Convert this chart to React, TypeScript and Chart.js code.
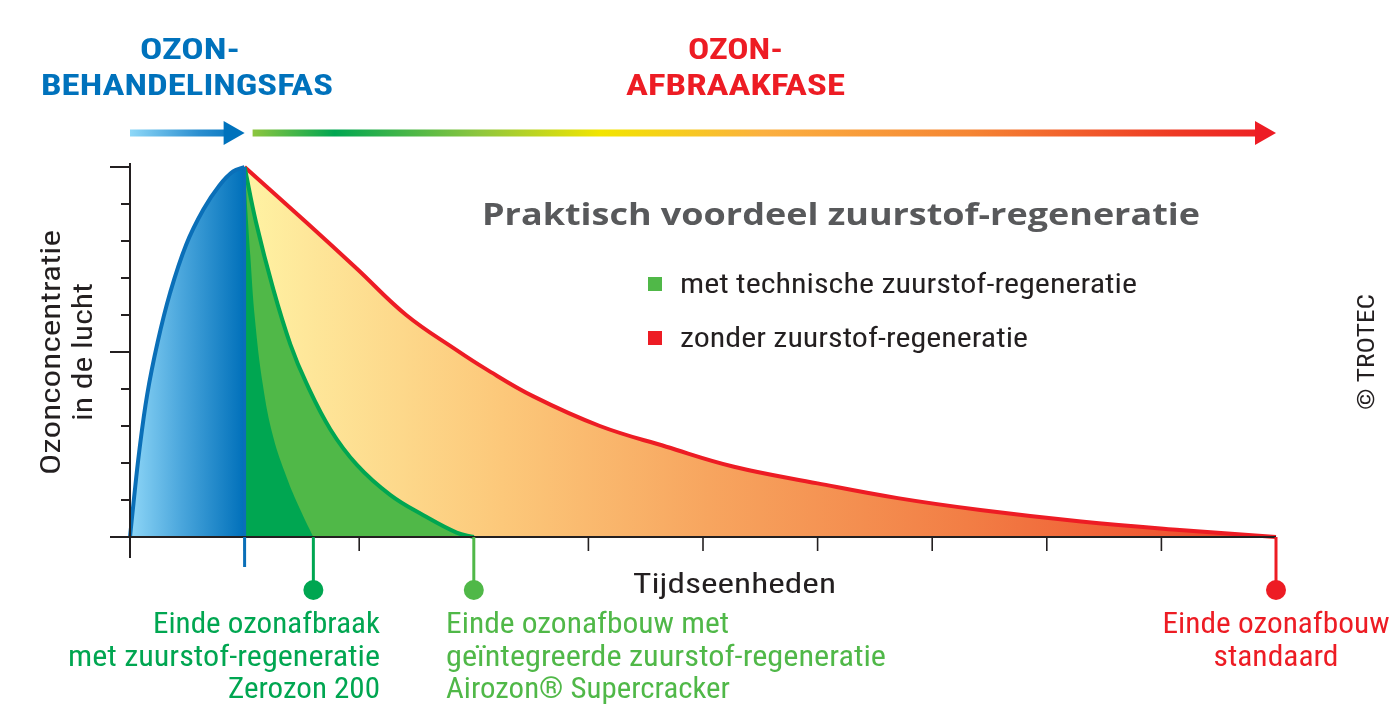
import React, { useEffect, useRef } from "react";
import { Chart, registerables } from "chart.js";

Chart.register(...registerables);

// ---- data (time units / relative ozone concentration) ----
const timeTicks = [0, 1, 2, 3, 4, 5, 6, 7, 8, 9, 10];
const concTicks = [0, 1, 2, 3, 4, 5, 6, 7, 8, 9, 10];
const majorConcTicks = [0, 5, 10];

const riseX = [0, 0.03, 0.08, 0.15, 0.24, 0.35, 0.49, 0.64, 0.78, 0.9, 1];
const riseY = [0, 0.9, 2.3, 3.85, 5.25, 6.6, 7.9, 8.85, 9.5, 9.88, 10];

const standardX = [1, 1.54, 1.98, 2.41, 2.85, 3.1, 3.52, 4.1, 4.68, 5.27, 6.0, 6.7, 7.42, 8.3, 9.16, 10];
const standardY = [10, 8.5, 7.25, 6.0, 5.05, 4.55, 3.8, 3.0, 2.44, 1.9, 1.45, 1.05, 0.73, 0.42, 0.19, 0];

const airozonX = [1, 1.1, 1.25, 1.4, 1.54, 1.75, 1.98, 2.27, 2.56, 2.85, 3];
const airozonY = [10, 8.5, 6.7, 5.2, 4.15, 2.9, 1.95, 1.14, 0.59, 0.12, 0];

const zerozonX = [1, 1.05, 1.09, 1.16, 1.25, 1.37, 1.48, 1.6];
const zerozonY = [10, 7.6, 5.9, 4.1, 2.7, 1.59, 0.78, 0];

const treatmentEnd = 1;
const zerozonEnd = 1.6;
const airozonEnd = 3;
const standardEnd = 10;

const phaseTreatment = ["OZON-", "BEHANDELINGSFAS"];
const phaseBreakdown = ["OZON-", "AFBRAAKFASE"];
const chartTitle = "Praktisch voordeel zuurstof-regeneratie";
const legendLabels = ["met technische zuurstof-regeneratie", "zonder zuurstof-regeneratie"];
const xTitle = "Tijdseenheden";
const yTitle = ["Ozonconcentratie", "in de lucht"];
const zerozonLabel = ["Einde ozonafbraak", "met zuurstof-regeneratie", "Zerozon 200"];
const airozonLabel = ["Einde ozonafbouw met", "geïntegreerde zuurstof-regeneratie", "Airozon® Supercracker"];
const standardLabel = ["Einde ozonafbouw", "standaard"];
const copyright = "© TROTEC";

const pts = (xs: number[], ys: number[]) => xs.map((x, i) => ({ x, y: ys[i] }));

const NARROW = '"Liberation Sans Narrow", "Roboto Condensed", Roboto, "DejaVu Sans Condensed", sans-serif';

const BLUE = "#0a6fb8";
const DKGREEN = "#00a651";
const LTGREEN = "#50b848";
const RED = "#ed1c24";
const INK = "#231f20";

function fitText(c: CanvasRenderingContext2D, text: string, x: number, y: number, w: number, align: CanvasTextAlign, rot = 0) {
  const m = c.measureText(text).width;
  const s = w / m;
  c.save();
  c.translate(x, y);
  if (rot) c.rotate(rot);
  c.scale(s, 1);
  c.textAlign = align;
  c.textBaseline = "alphabetic";
  c.fillText(text, 0, 0);
  c.restore();
}

function arrow(c: CanvasRenderingContext2D, x0: number, x1: number, y: number, fill: string | CanvasGradient, headColor: string) {
  const headLen = 21;
  c.save();
  c.fillStyle = fill;
  c.fillRect(x0, y - 3.5, x1 - headLen - x0 + 1, 7);
  c.fillStyle = headColor;
  c.beginPath();
  c.moveTo(x1 - headLen, y - 12);
  c.lineTo(x1, y);
  c.lineTo(x1 - headLen, y + 12);
  c.closePath();
  c.fill();
  c.restore();
}

const decorPlugin = {
  id: "decor",
  afterDatasetsDraw(chart: any) {
    const c: CanvasRenderingContext2D = chart.ctx;
    const xs = chart.scales.x;
    const ys = chart.scales.y;
    const x0 = xs.getPixelForValue(0);
    const y0 = ys.getPixelForValue(0);
    c.save();
    // blue vertical edge at end of treatment phase
    c.strokeStyle = BLUE;
    c.lineWidth = 3;
    c.beginPath();
    c.moveTo(xs.getPixelForValue(treatmentEnd), ys.getPixelForValue(10));
    c.lineTo(xs.getPixelForValue(treatmentEnd), y0);
    c.stroke();

    c.strokeStyle = INK;
    c.lineCap = "butt";
    // y axis
    c.lineWidth = 2;
    c.beginPath();
    c.moveTo(x0, ys.getPixelForValue(10) - 4);
    c.lineTo(x0, y0 + 21);
    c.stroke();
    // y ticks
    concTicks.forEach((v) => {
      const py = ys.getPixelForValue(v);
      const len = majorConcTicks.includes(v) ? 20 : 9;
      c.beginPath();
      c.moveTo(x0 - len, py);
      c.lineTo(x0, py);
      c.stroke();
    });
    // x axis
    c.beginPath();
    c.moveTo(x0 - 20, y0);
    c.lineTo(xs.getPixelForValue(10), y0);
    c.stroke();
    c.lineWidth = 1.6;
    timeTicks.forEach((t) => {
      if (t === 0) return;
      const px = xs.getPixelForValue(t);
      c.beginPath();
      c.moveTo(px, y0);
      c.lineTo(px, y0 + 14);
      c.stroke();
    });
    // end markers
    c.lineWidth = 3;
    c.strokeStyle = BLUE;
    c.beginPath();
    c.moveTo(xs.getPixelForValue(treatmentEnd), y0);
    c.lineTo(xs.getPixelForValue(treatmentEnd), y0 + 30);
    c.stroke();
    const marker = (t: number, col: string) => {
      const px = xs.getPixelForValue(t);
      c.strokeStyle = col;
      c.fillStyle = col;
      c.beginPath();
      c.moveTo(px, y0);
      c.lineTo(px, y0 + 50);
      c.stroke();
      c.beginPath();
      c.arc(px, y0 + 53, 10, 0, Math.PI * 2);
      c.fill();
    };
    marker(zerozonEnd, DKGREEN);
    marker(airozonEnd, LTGREEN);
    marker(standardEnd, RED);
    c.restore();
  },
  afterDraw(chart: any) {
    const c: CanvasRenderingContext2D = chart.ctx;
    const xs = chart.scales.x;
    c.save();
    // phase headings
    c.font = `bold 29px ${NARROW}`;
    c.fillStyle = "#0072bc";
    fitText(c, phaseTreatment[0], 140, 59, 100, "left");
    fitText(c, phaseTreatment[1], 41, 95, 292, "left");
    c.fillStyle = RED;
    fitText(c, phaseBreakdown[0], 688, 59, 95, "left");
    fitText(c, phaseBreakdown[1], 626, 95, 219, "left");

    // arrows
    const bx0 = xs.getPixelForValue(0);
    const bx1 = xs.getPixelForValue(treatmentEnd);
    const gb = c.createLinearGradient(bx0, 0, bx1, 0);
    gb.addColorStop(0, "#8ed8f8");
    gb.addColorStop(0.6, "#2b8fd0");
    gb.addColorStop(1, "#0072bc");
    arrow(c, bx0, bx1, 133, gb, "#0072bc");
    const rx0 = bx1 + 8;
    const rx1 = xs.getPixelForValue(standardEnd);
    const gr = c.createLinearGradient(rx0, 0, rx1, 0);
    gr.addColorStop(0, "#8dc63f");
    gr.addColorStop(0.08, "#00a651");
    gr.addColorStop(0.22, "#8dc63f");
    gr.addColorStop(0.34, "#f2e500");
    gr.addColorStop(0.5, "#fbb040");
    gr.addColorStop(0.7, "#f58634");
    gr.addColorStop(0.9, "#ee3a24");
    gr.addColorStop(1, RED);
    arrow(c, rx0, rx1, 133, gr, RED);

    // title
    c.font = `bold 31px "Open Sans", "DejaVu Sans", sans-serif`;
    c.fillStyle = "#58595b";
    fitText(c, chartTitle, 482, 225, 718, "left");

    // legend
    c.fillStyle = LTGREEN;
    c.fillRect(648, 277, 14, 14);
    c.fillStyle = RED;
    c.fillRect(648, 331, 14, 14);
    c.font = `28px ${NARROW}`;
    c.fillStyle = INK;
    fitText(c, legendLabels[0], 680, 293, 457, "left");
    fitText(c, legendLabels[1], 680, 347, 348, "left");

    // axis titles
    fitText(c, xTitle, 633, 593, 203, "left");
    fitText(c, yTitle[0], 60, 475, 245, "left", -Math.PI / 2);
    fitText(c, yTitle[1], 92, 421, 138, "left", -Math.PI / 2);

    // bottom labels
    c.font = `29px ${NARROW}`;
    c.fillStyle = DKGREEN;
    fitText(c, zerozonLabel[0], 380, 633, 227, "right");
    fitText(c, zerozonLabel[1], 380, 666, 312, "right");
    fitText(c, zerozonLabel[2], 380, 698, 152, "right");
    c.fillStyle = LTGREEN;
    fitText(c, airozonLabel[0], 446, 633, 283, "left");
    fitText(c, airozonLabel[1], 446, 666, 440, "left");
    fitText(c, airozonLabel[2], 446, 698, 284, "left");
    c.fillStyle = RED;
    fitText(c, standardLabel[0], 1276, 633, 227, "center");
    fitText(c, standardLabel[1], 1276, 666, 125, "center");

    // copyright
    c.font = `24px ${NARROW}`;
    c.fillStyle = INK;
    fitText(c, copyright, 1374, 352, 116, "center", -Math.PI / 2);
    c.restore();
  },
};

function gradientFill(stops: [number, string][], from: number, to: number) {
  return (ctx: any) => {
    const chart = ctx.chart;
    if (!chart.chartArea) return "rgba(0,0,0,0)";
    const xs = chart.scales.x;
    const g = chart.ctx.createLinearGradient(xs.getPixelForValue(from), 0, xs.getPixelForValue(to), 0);
    stops.forEach(([o, col]) => g.addColorStop(o, col));
    return g;
  };
}

const curve = { pointRadius: 0, tension: 0.4, fill: "origin", clip: false };

export default function App() {
  const ref = useRef<HTMLCanvasElement | null>(null);
  useEffect(() => {
    if (!ref.current) return;
    const chart = new Chart(ref.current, {
      type: "line",
      data: {
        datasets: [
          {
            ...curve,
            label: "rise",
            data: pts(riseX, riseY),
            borderColor: BLUE,
            borderWidth: 4,
            backgroundColor: gradientFill(
              [
                [0, "#8ed6f7"],
                [0.45, "#4aa6dc"],
                [1, "#0070ba"],
              ],
              0,
              treatmentEnd
            ),
          },
          {
            ...curve,
            label: "Zerozon 200",
            data: pts(zerozonX, zerozonY),
            borderColor: DKGREEN,
            borderWidth: 0,
            backgroundColor: DKGREEN,
          },
          {
            ...curve,
            label: "met technische zuurstof-regeneratie",
            data: pts(airozonX, airozonY),
            borderColor: DKGREEN,
            borderWidth: 4,
            backgroundColor: LTGREEN,
          },
          {
            ...curve,
            label: "zonder zuurstof-regeneratie",
            data: pts(standardX, standardY),
            borderColor: RED,
            borderWidth: 4,
            backgroundColor: gradientFill(
              [
                [0, "#fff3a3"],
                [0.06, "#fee79a"],
                [0.25, "#fcc87a"],
                [0.45, "#f7a55f"],
                [0.7, "#f27e45"],
                [0.88, "#ef5a33"],
                [1, "#ec3a26"],
              ],
              treatmentEnd,
              standardEnd
            ),
          },
        ],
      },
      options: {
        responsive: false,
        animation: false,
        events: [],
        layout: { padding: { left: 130, right: 124, top: 167, bottom: 176 } },
        scales: {
          x: { type: "linear", min: 0, max: 10, display: false },
          y: { type: "linear", min: 0, max: 10, display: false },
        },
        plugins: {
          legend: { display: false },
          tooltip: { enabled: false },
          title: { display: false },
        },
      },
      plugins: [decorPlugin],
    } as any);
    return () => chart.destroy();
  }, []);
  return (
    <div style={{ position: "fixed", left: 0, top: 0, width: 1400, height: 713, background: "#fff" }}>
      <canvas ref={ref} width={1400} height={713} />
    </div>
  );
}
